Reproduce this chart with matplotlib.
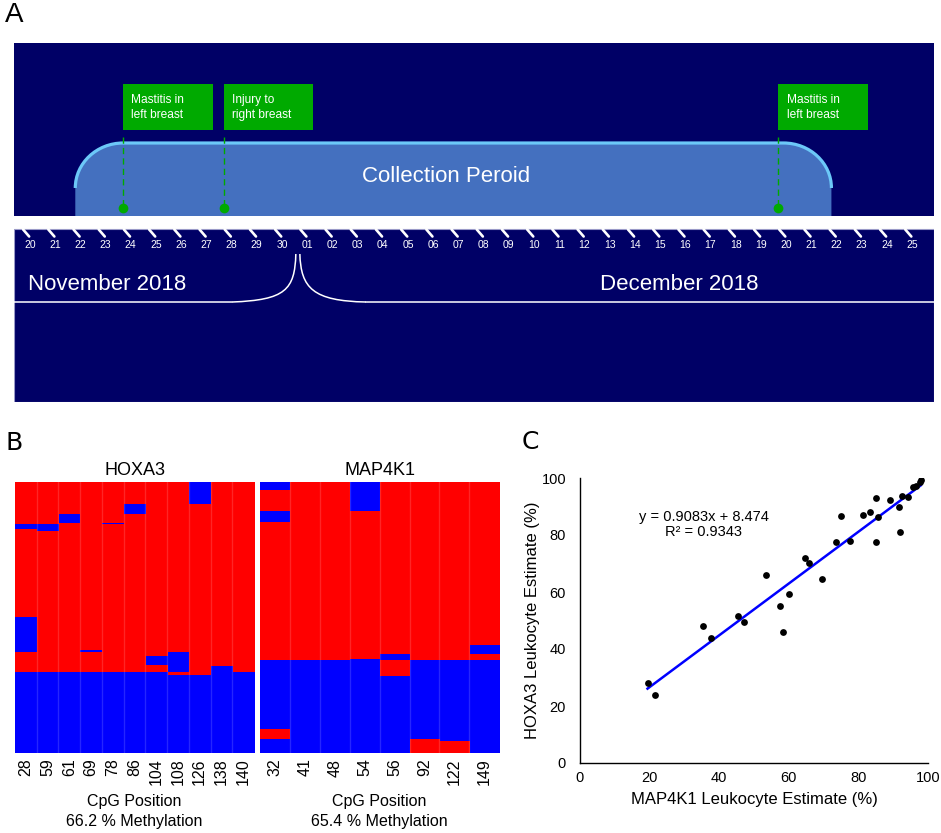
import numpy as np
import pandas as pd
import matplotlib
matplotlib.use("Agg")
import matplotlib.pyplot as plt
from matplotlib.patches import Rectangle, PathPatch
from matplotlib.path import Path
from matplotlib.colors import ListedColormap

plt.rcParams['font.family'] = ['Liberation Sans', 'DejaVu Sans']

# === DATA ===
# panel A: sampling timeline
timeline_days = pd.date_range("2018-11-20", "2018-12-25", freq="D")
collection_start = "2018-11-22"
collection_end = "2018-12-22"
event_dates = ["2018-11-24", "2018-11-28", "2018-12-20"]
event_labels = ["Mastitis in\nleft breast", "Injury to\nright breast", "Mastitis in\nleft breast"]
month_labels = ["November 2018", "December 2018"]

# panel B: read-level methylation, blue (unmethylated) stretches per CpG as
# fractions of reads from the top
hoxa3_cpg = [28, 59, 61, 69, 78, 86, 104, 108, 126, 138, 140]
hoxa3_unmeth = [
    [(0.156, 0.175), (0.498, 0.627), (0.702, 1.0)],
    [(0.156, 0.182), (0.702, 1.0)],
    [(0.117, 0.151), (0.702, 1.0)],
    [(0.620, 0.627), (0.702, 1.0)],
    [(0.150, 0.156), (0.702, 1.0)],
    [(0.081, 0.117), (0.702, 1.0)],
    [(0.643, 0.677), (0.702, 1.0)],
    [(0.629, 0.702), (0.713, 1.0)],
    [(0.0, 0.080), (0.713, 1.0)],
    [(0.678, 1.0)],
    [(0.702, 1.0)],
]
hoxa3_pct = 66.2

map4k1_cpg = [32, 41, 48, 54, 56, 92, 122, 149]
map4k1_unmeth = [
    [(0.0, 0.028), (0.106, 0.148), (0.658, 0.910), (0.947, 1.0)],
    [(0.658, 1.0)],
    [(0.658, 1.0)],
    [(0.0, 0.106), (0.654, 1.0)],
    [(0.633, 0.658), (0.717, 1.0)],
    [(0.658, 0.947)],
    [(0.658, 0.957)],
    [(0.603, 0.633), (0.658, 1.0)],
]
map4k1_pct = 65.4

# panel C: leukocyte estimates
map4k1_est = [97.7, 97.9, 96.6, 95.6, 92.4, 94.3, 85.2, 89.1, 91.7, 81.2, 83.4, 85.6,
              74.9, 92.0, 85.2, 73.6, 77.5, 64.7, 65.7, 69.5, 53.5, 60.0, 57.6,
              45.4, 47.2, 35.3, 37.5, 58.2, 19.4, 21.6]
hoxa3_est = [98.7, 99.4, 97.2, 96.7, 93.7, 93.2, 92.9, 92.3, 89.8, 87.1, 88.0, 86.3,
             86.8, 81.1, 77.7, 77.5, 78.0, 72.0, 70.3, 64.6, 65.9, 59.3, 55.1,
             51.6, 49.5, 48.1, 43.7, 45.8, 28.2, 23.7]
fit_slope = 0.9083
fit_intercept = 8.474
fit_r2 = 0.9343

W, H = 941, 833
fig = plt.figure(figsize=(W / 100, H / 100), dpi=100)

# === PANEL A ===
navy = '#000066'
green = '#00aa00'
day_idx = lambda d: (pd.Timestamp(d) - timeline_days[0]).days

axA = fig.add_axes([14.3 / W, 1 - 402 / H, (934 - 14.3) / W, (402 - 43) / H])
x_lo, x_hi = -0.62, 35.87
axA.set_xlim(x_lo, x_hi)
axA.set_ylim(402, 43)  # vertical layout in pixel rows
axA.axis('off')
axA.add_patch(Rectangle((x_lo, 43), x_hi - x_lo, 173, facecolor=navy, edgecolor='none'))
axA.add_patch(Rectangle((x_lo, 229), x_hi - x_lo, 173, facecolor=navy,
                        edgecolor='#9a9ac8', lw=0.8))

# collection period box with rounded top corners
x0 = day_idx(collection_start) - 0.2
x1 = day_idx(collection_end) - 0.2
rx, top, mid, bot = 1.9, 143, 188, 216
k = 0.552
curve = [(x0, mid), (x0, mid - k * (mid - top)), (x0 + rx - k * rx, top), (x0 + rx, top),
         (x1 - rx, top), (x1 - rx + k * rx, top), (x1, mid - k * (mid - top)), (x1, mid)]
curve_codes = [Path.MOVETO, Path.CURVE4, Path.CURVE4, Path.CURVE4,
               Path.LINETO, Path.CURVE4, Path.CURVE4, Path.CURVE4]
fill_path = Path([(x0, bot)] + curve + [(x1, bot), (x0, bot)],
                 [Path.MOVETO, Path.LINETO] + curve_codes[1:] + [Path.LINETO, Path.CLOSEPOLY])
axA.add_patch(PathPatch(fill_path, facecolor='#4470bf', edgecolor='none'))
axA.add_patch(PathPatch(Path(curve, curve_codes), facecolor='none',
                        edgecolor='#6cc8f8', lw=2.3))
axA.text((x0 + x1) / 2 - 0.3, 177, "Collection Peroid", color='white', fontsize=16,
         ha='center', va='center')

# events
for d, lab in zip(event_dates, event_labels):
    ex = day_idx(d) - 0.3
    axA.add_patch(Rectangle((ex, 84), 3.55, 46, facecolor=green, edgecolor='none'))
    axA.text(ex + 0.32, 107.5, lab, color='white', fontsize=8.6, ha='left', va='center',
             linespacing=1.4)
    axA.plot([ex, ex], [137, 205], color=green, lw=1.0, dashes=(4.5, 3))
    axA.plot(ex, 208, 'o', color=green, ms=7, mec='none')

# day ticks and labels
for i, d in enumerate(timeline_days):
    axA.plot([i - 0.27, i - 0.03], [229.5, 236.5], color='white', lw=1.9,
             solid_capstyle='round')
    axA.text(i, 245, f"{d.day:02d}", color='white', fontsize=7.5, ha='center', va='center')

# month brace
c = day_idx("2018-12-01") - 0.37
ly = 302
axA.plot([x_lo, c - 2.6], [ly, ly], color='white', lw=1.1)
axA.plot([c + 2.7, x_hi], [ly, ly], color='white', lw=1.1)
brace = Path([(c - 2.6, ly), (c - 0.5, ly - 2), (c - 0.12, ly - 12), (c - 0.08, 254),
              (c + 0.08, 254), (c + 0.12, ly - 14), (c + 0.6, ly - 1), (c + 2.7, ly)],
             [Path.MOVETO, Path.CURVE4, Path.CURVE4, Path.CURVE4,
              Path.MOVETO, Path.CURVE4, Path.CURVE4, Path.CURVE4])
axA.add_patch(PathPatch(brace, facecolor='none', edgecolor='white', lw=1.1))
axA.text(-0.08, 285, month_labels[0], color='white', fontsize=16, ha='left', va='center')
axA.text(22.6, 285, month_labels[1], color='white', fontsize=16, ha='left', va='center')

fig.text(14 / W, 1 - 15 / H, "A", fontsize=20, ha='center', va='center')


# === PANEL B ===
def draw_heatmap(ax, cpg, unmeth, title, pct):
    n_rows = 1000
    mat = np.ones((n_rows, len(cpg)))
    for j, segs in enumerate(unmeth):
        for a, b in segs:
            mat[int(round(a * n_rows)):int(round(b * n_rows)), j] = 0
    ax.imshow(mat, cmap=ListedColormap(['#0000ff', '#ff0000']), aspect='auto',
              interpolation='nearest', extent=(-0.5, len(cpg) - 0.5, n_rows, 0))
    for j in range(1, len(cpg)):
        ax.axvline(j - 0.5, color='white', alpha=0.15, lw=1)
    ax.set_xticks(range(len(cpg)))
    ax.set_xticklabels(cpg, rotation=90, fontsize=11.5)
    ax.set_yticks([])
    ax.tick_params(length=0, pad=4)
    for s in ax.spines.values():
        s.set_visible(False)
    ax.set_title(title, fontsize=13, pad=5)
    ax.set_xlabel(f"CpG Position\n{pct} % Methylation", fontsize=11.5, labelpad=6,
                  linespacing=1.45)


ax_h = fig.add_axes([15 / W, 1 - 753 / H, 239 / W, 271 / H])
draw_heatmap(ax_h, hoxa3_cpg, hoxa3_unmeth, "HOXA3", hoxa3_pct)
ax_m = fig.add_axes([260 / W, 1 - 753 / H, 239.3 / W, 271 / H])
draw_heatmap(ax_m, map4k1_cpg, map4k1_unmeth, "MAP4K1", map4k1_pct)
fig.text(14.5 / W, 1 - 442.5 / H, "B", fontsize=18, ha='center', va='center',
         family='DejaVu Sans')

# === PANEL C ===
axC = fig.add_axes([580 / W, 1 - 763 / H, 348 / W, 285 / H])
axC.scatter(map4k1_est, hoxa3_est, s=24, color='black', zorder=3, linewidths=0)
xs = np.array([min(map4k1_est), max(map4k1_est)])
axC.plot(xs, fit_slope * xs + fit_intercept, color='#0000ff', lw=1.8, zorder=2)
axC.set_xlim(0, 100)
axC.set_ylim(0, 100)
axC.set_xticks(range(0, 101, 20))
axC.set_yticks(range(0, 101, 20))
axC.tick_params(length=0, labelsize=10.5, pad=6)
axC.tick_params(axis='y', pad=10)
for s in ['top', 'right']:
    axC.spines[s].set_visible(False)
for s in ['left', 'bottom']:
    axC.spines[s].set_linewidth(1.0)
axC.set_xlabel("MAP4K1 Leukocyte Estimate (%)", fontsize=12, labelpad=5)
axC.set_ylabel("HOXA3 Leukocyte Estimate (%)", fontsize=12, labelpad=1)
axC.text(35.6, 86.4, f"y = {fit_slope}x + {fit_intercept}", fontsize=10.5,
         ha='center', va='center')
axC.text(35.6, 81.2, f"R\u00b2 = {fit_r2}", fontsize=10.5, ha='center', va='center')
fig.text(530.5 / W, 1 - 442 / H, "C", fontsize=18, ha='center', va='center',
         family='DejaVu Sans')

fig.savefig("out.png", dpi=100)
